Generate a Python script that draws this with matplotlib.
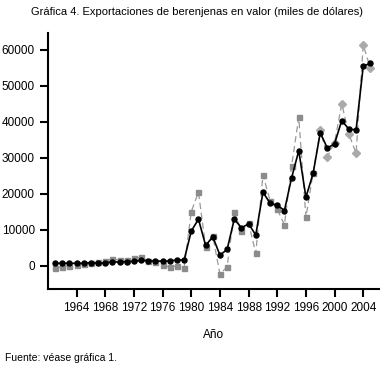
import matplotlib
matplotlib.use("Agg")
import matplotlib.pyplot as plt

years = list(range(1961, 2006))
black = [750, 750, 750, 750, 750, 900, 750, 900, 1100, 1100, 1200, 1300, 1550, 1400, 1400, 1300, 1400, 1650, 1650,
         9700, 13000, 5700, 8100, 3000, 4600, 13000, 10600, 11700, 8600, 20500, 17400, 16900, 15400, 24500, 32000,
         19100, 25700, 37000, 32700, 34000, 40400, 38000, 37800, 55500, 56300]
gray = [-650, -200, 0, 280, 550, 750, 1100, 1500, 1850, 1650, 1550, 2100, 2400, 1400, 1000, 200, -300, 0, -450,
        15100, 20500, 5400, 8300, -2300, -200, 14900, 9700, 11900, 3500, 25300, 18100, 15800, 11400, 27800, 41300,
        13500, 25900, 37800, 30400, 34300, 45000, 36600, 31300, 61400, 54900]
xticks = list(range(1964, 2005, 4))
yticks = [0, 10000, 20000, 30000, 40000, 50000, 60000]

plt.rcParams['font.family'] = ['Liberation Sans Narrow', 'Liberation Sans', 'DejaVu Sans']

fig = plt.figure(figsize=(3.84, 3.72), dpi=100)
ax = fig.add_axes([0.125, 0.2231, 0.862, 0.688])

split = 37  # index of 1998
ax.plot(years, gray, color='#999999', lw=0.9, ls=(0, (5, 3)), zorder=2)
ax.plot(years[:split], gray[:split], ls='none', marker='s', ms=3.6, color='#8c8c8c', zorder=3)
ax.plot(years[split:], gray[split:], ls='none', marker='D', ms=3.6, color='#aaaaaa', zorder=3)
ax.plot(years, black, color='black', lw=1.2, marker='o', ms=3.6, zorder=4)

ax.set_xlim(1960, 2006.2)
ax.set_ylim(-6400, 64700)
ax.set_xticks(xticks)
ax.set_yticks(yticks)
ax.tick_params(direction='out', length=6, width=1.5, labelsize=8.5, color='black')
for s in ['top', 'right']:
    ax.spines[s].set_visible(False)
for s in ['left', 'bottom']:
    ax.spines[s].set_linewidth(1.5)
ax.set_xlabel('Año', fontsize=8.5, labelpad=11)

fig.text(0.513, 0.967, 'Gráfica 4. Exportaciones de berenjenas en valor (miles de dólares)',
         ha='center', va='center', fontsize=8)
fig.text(0.013, 0.038, 'Fuente: véase gráfica 1.', ha='left', va='center', fontsize=7.5)

fig.savefig('out.png', dpi=100)
